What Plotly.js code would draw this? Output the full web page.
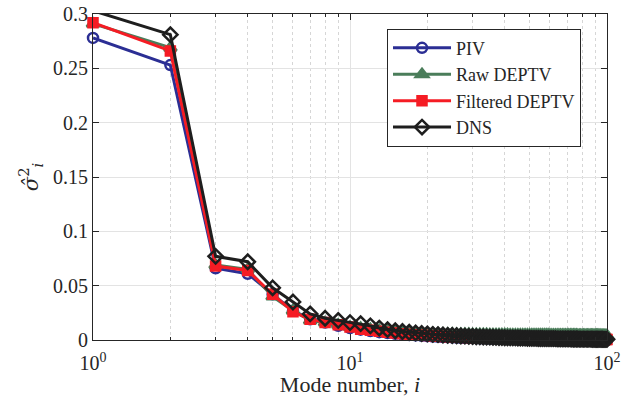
<!DOCTYPE html>
<html>
<head>
<meta charset="utf-8">
<script src="https://cdn.plot.ly/plotly-3.0.1.min.js"></script>
<style>html,body{margin:0;padding:0;background:#fff;}#chart{width:641px;height:397px;}</style>
</head>
<body>
<div id="chart"></div>
<script>
const modes = [1,2,3,4,5,6,7,8,9,10,11,12,13,14,15,16,17,18,19,20,
21,22,23,24,25,26,27,28,29,30,31,32,33,34,35,36,37,38,39,40,
41,42,43,44,45,46,47,48,49,50,51,52,53,54,55,56,57,58,59,60,
61,62,63,64,65,66,67,68,69,70,71,72,73,74,75,76,77,78,79,80,
81,82,83,84,85,86,87,88,89,90,91,92,93,94,95,96,97,98,99,100];

const piv = [0.278, 0.253, 0.066, 0.061, 0.042, 0.027, 0.019, 0.016, 0.013, 0.011,
0.0095, 0.0082, 0.0072, 0.0064, 0.0057, 0.0051, 0.0046, 0.0042, 0.0038, 0.0035,
0.0032, 0.0030, 0.0028, 0.0026, 0.0024, 0.0023, 0.0021, 0.0020, 0.0019, 0.0018,
0.0017, 0.0016, 0.0015, 0.0015, 0.0014, 0.0013, 0.0013, 0.0012, 0.0012, 0.0011,
0.0011, 0.0010, 0.0010, 0.00097, 0.00094, 0.00091, 0.00088, 0.00085, 0.00082, 0.00080,
0.00077, 0.00075, 0.00073, 0.00071, 0.00069, 0.00067, 0.00065, 0.00063, 0.00062, 0.00060,
0.00058, 0.00057, 0.00056, 0.00054, 0.00053, 0.00052, 0.00050, 0.00049, 0.00048, 0.00047,
0.00046, 0.00045, 0.00044, 0.00043, 0.00042, 0.00041, 0.00040, 0.00039, 0.00039, 0.00038,
0.00037, 0.00036, 0.00036, 0.00035, 0.00034, 0.00034, 0.00033, 0.00032, 0.00032, 0.00031,
0.00030, 0.00030, 0.00029, 0.00029, 0.00028, 0.00027, 0.00027, 0.00026, 0.00026, 0.00025];

const rawDeptv = [0.291, 0.269, 0.069, 0.065, 0.040, 0.027, 0.018, 0.016, 0.014, 0.012,
0.011, 0.0098, 0.0090, 0.0083, 0.0078, 0.0073, 0.0070, 0.0067, 0.0064, 0.0062,
0.0060, 0.0059, 0.0058, 0.0057, 0.0056, 0.0055, 0.0055, 0.0054, 0.0054, 0.0053,
0.0053, 0.0052, 0.0052, 0.0052, 0.0051, 0.0051, 0.0051, 0.0050, 0.0050, 0.0050,
0.0050, 0.0049, 0.0049, 0.0049, 0.0049, 0.0049, 0.0048, 0.0048, 0.0048, 0.0048,
0.0048, 0.0048, 0.0047, 0.0047, 0.0047, 0.0047, 0.0047, 0.0047, 0.0047, 0.0046,
0.0046, 0.0046, 0.0046, 0.0046, 0.0046, 0.0046, 0.0046, 0.0045, 0.0045, 0.0045,
0.0045, 0.0045, 0.0045, 0.0045, 0.0045, 0.0045, 0.0044, 0.0044, 0.0044, 0.0044,
0.0044, 0.0044, 0.0044, 0.0044, 0.0044, 0.0043, 0.0043, 0.0043, 0.0043, 0.0043,
0.0043, 0.0043, 0.0043, 0.0043, 0.0042, 0.0042, 0.0042, 0.0042, 0.0042, 0.0042];

const filteredDeptv = [0.292, 0.266, 0.068, 0.064, 0.042, 0.026, 0.019, 0.016, 0.014, 0.012,
0.010, 0.0090, 0.0080, 0.0071, 0.0064, 0.0058, 0.0053, 0.0048, 0.0044, 0.0041,
0.0038, 0.0035, 0.0033, 0.0031, 0.0029, 0.0027, 0.0026, 0.0024, 0.0023, 0.0022,
0.0021, 0.0020, 0.0019, 0.0018, 0.0018, 0.0017, 0.0016, 0.0016, 0.0015, 0.0015,
0.0014, 0.0014, 0.0013, 0.0013, 0.0013, 0.0012, 0.0012, 0.0012, 0.0011, 0.0011,
0.0011, 0.0010, 0.0010, 0.0010, 0.00098, 0.00096, 0.00094, 0.00092, 0.00090, 0.00088,
0.00086, 0.00084, 0.00083, 0.00081, 0.00080, 0.00078, 0.00077, 0.00076, 0.00074, 0.00073,
0.00072, 0.00071, 0.00070, 0.00069, 0.00068, 0.00067, 0.00066, 0.00065, 0.00064, 0.00063,
0.00062, 0.00061, 0.00061, 0.00060, 0.00059, 0.00058, 0.00058, 0.00057, 0.00056, 0.00056,
0.00055, 0.00054, 0.00054, 0.00053, 0.00053, 0.00052, 0.00051, 0.00051, 0.00050, 0.00050];

const dns = [0.303, 0.281, 0.077, 0.072, 0.048, 0.035, 0.024, 0.020, 0.018, 0.016,
0.015, 0.013, 0.011, 0.0095, 0.0085, 0.0078, 0.0071, 0.0065, 0.0060, 0.0056,
0.0052, 0.0049, 0.0046, 0.0043, 0.0041, 0.0039, 0.0037, 0.0035, 0.0033, 0.0032,
0.0030, 0.0029, 0.0028, 0.0027, 0.0026, 0.0025, 0.0024, 0.0023, 0.0022, 0.0021,
0.0020, 0.0020, 0.0019, 0.0019, 0.0018, 0.0018, 0.0017, 0.0017, 0.0016, 0.0016,
0.0015, 0.0015, 0.0015, 0.0014, 0.0014, 0.0014, 0.0013, 0.0013, 0.0013, 0.0012,
0.0012, 0.0012, 0.0012, 0.0011, 0.0011, 0.0011, 0.0011, 0.0010, 0.0010, 0.0010,
0.0010, 0.00098, 0.00096, 0.00094, 0.00092, 0.00090, 0.00088, 0.00086, 0.00084, 0.00082,
0.00080, 0.00079, 0.00078, 0.00077, 0.00076, 0.00075, 0.00074, 0.00073, 0.00072, 0.00071,
0.00070, 0.00069, 0.00068, 0.00067, 0.00066, 0.00065, 0.00064, 0.00063, 0.00062, 0.00060];

const seriesNames = ['PIV', 'Raw DEPTV', 'Filtered DEPTV', 'DNS'];
const xTickVals = [1, 10, 100];
const xTickText = ['10<sup>0</sup>', '10<sup>1</sup>', '10<sup>2</sup>'];
const xMinorVals = [2,3,4,5,6,7,8,9,20,30,40,50,60,70,80,90];
const yTickVals = [0, 0.05, 0.1, 0.15, 0.2, 0.25, 0.3];
const yTickText = ['0', '0.05', '0.1', '0.15', '0.2', '0.25', '0.3'];

const FONT = '"Liberation Serif", "DejaVu Serif", serif';
const INK = '#262626';

function mk(name, y, color, symbol, size) {
  return {
    x: modes, y: y, name: name, type: 'scatter', mode: 'lines+markers',
    line: {color: color, width: 3},
    marker: {symbol: symbol, size: size, color: color, line: {color: color, width: 2.5}},
    cliponaxis: false
  };
}

const data = [
  mk(seriesNames[0], piv, '#2b2e94', 'circle-open', 10),
  mk(seriesNames[1], rawDeptv, '#4a7d5a', 'triangle-up', 11),
  mk(seriesNames[2], filteredDeptv, '#f51c24', 'square', 9),
  mk(seriesNames[3], dns, '#1e1e1e', 'diamond-open', 11)
];

const layout = {
  width: 641, height: 397,
  margin: {l: 93, r: 34, t: 14, b: 57},
  paper_bgcolor: '#ffffff', plot_bgcolor: '#ffffff',
  font: {family: FONT, size: 20, color: INK},
  showlegend: true,
  legend: {
    x: 0.572, y: 0.955, xanchor: 'left', yanchor: 'top',
    bgcolor: '#ffffff', bordercolor: INK, borderwidth: 1,
    font: {family: FONT, size: 18, color: INK},
    itemwidth: 58, tracegroupgap: 0
  },
  xaxis: {
    type: 'log', range: [0, 2],
    tickmode: 'array', tickvals: xTickVals, ticktext: xTickText,
    ticks: 'inside', ticklen: 6, tickcolor: INK,
    ticklabelstandoff: 5,
    showline: true, linecolor: INK, linewidth: 1, mirror: 'ticks',
    showgrid: true, gridcolor: '#e3e3e3', gridwidth: 1,
    zeroline: false,
    minor: {tickmode: 'array', tickvals: xMinorVals, ticks: 'inside', ticklen: 3, tickcolor: INK,
            showgrid: true, gridcolor: '#d6d6d6', griddash: 'dot', gridwidth: 1},
    title: {text: 'Mode number, <i>i</i>', font: {family: FONT, size: 22, color: INK}, standoff: 3},
    tickfont: {family: FONT, size: 20, color: INK}
  },
  yaxis: {
    range: [0, 0.3],
    tickmode: 'array', tickvals: yTickVals, ticktext: yTickText,
    ticks: 'inside', ticklen: 6, tickcolor: INK,
    showline: true, linecolor: INK, linewidth: 1, mirror: 'ticks',
    showgrid: true, gridcolor: '#e3e3e3', gridwidth: 1,
    zeroline: false,
    title: {text: '<i>σ̂</i><sup>2</sup><sub><i>i</i></sub>', font: {family: '"DejaVu Serif", serif', size: 21, color: INK}, standoff: 8},
    tickfont: {family: FONT, size: 20, color: INK}
  }
};

Plotly.newPlot('chart', data, layout, {displayModeBar: false, staticPlot: true});
</script>
</body>
</html>
